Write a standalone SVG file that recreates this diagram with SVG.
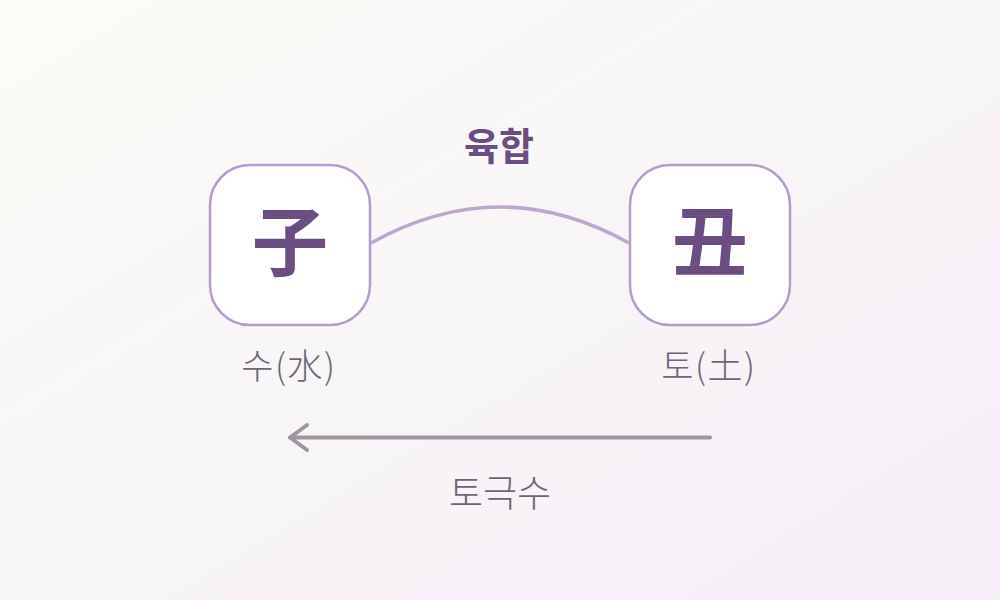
<svg xmlns="http://www.w3.org/2000/svg" width="1000" height="600" viewBox="0 0 1000 600">
<defs>
<linearGradient id="bg" x1="0" y1="0" x2="1" y2="1">
<stop offset="0" stop-color="#fcfbf6"/>
<stop offset="0.5" stop-color="#f8f5f7"/>
<stop offset="1" stop-color="#f4eff7"/>
</linearGradient>
<style>
.box{fill:#ffffff;stroke:#b39dc9;stroke-width:2.5}
.han{font-family:"Noto Sans CJK KR","Noto Sans CJK SC",sans-serif;font-weight:700;font-size:76px;fill:#6a4e82;text-anchor:middle}
.lbl{font-family:"Noto Sans CJK KR",sans-serif;font-weight:300;font-size:35px;fill:#6e6676;text-anchor:middle}
.title{font-family:"Noto Sans CJK KR",sans-serif;font-weight:600;font-size:38px;fill:#6a4e82;text-anchor:middle}
.arrow{fill:none;stroke:#9e979f;stroke-width:4;stroke-linecap:round;stroke-linejoin:round}
</style>
</defs>
<rect width="1000" height="600" fill="url(#bg)"/>
<g id="connectors">
<path d="M371,243 Q500,171 629,243" fill="none" stroke="#bca8cf" stroke-width="3.5"/>
<path class="arrow" d="M710,437.5 L290,437.5"/>
<path class="arrow" d="M307,425 L290,437.5 L307,450"/>
</g>
<text class="title" x="499" y="160">육합</text>
<g id="node-ja">
<rect class="box" x="210" y="165" width="160" height="160" rx="40"/>
<text class="han" x="290" y="270">子</text>
<text class="lbl" x="289" y="379" letter-spacing="1.5">수(水)</text>
</g>
<g id="node-chuk">
<rect class="box" x="630" y="165" width="160" height="160" rx="40"/>
<text class="han" x="710" y="270">丑</text>
<text class="lbl" x="709" y="379" letter-spacing="1.5">토(土)</text>
</g>
<text class="lbl" x="500" y="507" style="font-size:37px">토극수</text>
</svg>
